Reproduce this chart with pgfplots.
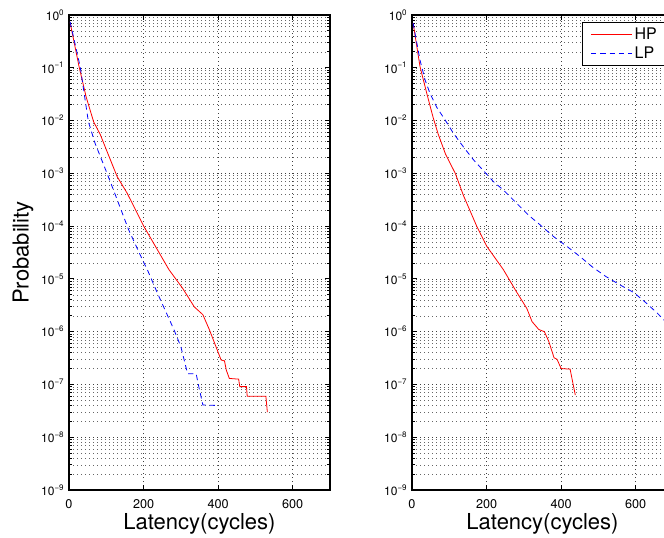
\documentclass[border=0pt]{standalone}
\usepackage{fontspec}
\setmainfont{TeX Gyre Heros}
\usepackage{pgfplots}
\pgfplotsset{compat=1.18}

\pgfplotsset{
  every axis/.append style={
    scale only axis, width=195.75pt, height=356.25pt,
    anchor=south west,
    xmin=0, xmax=700, ymin=1e-9, ymax=1,
    xtick={0,200,400,600}, xticklabels={0,200,400,600},
    ytick={1e-9,1e-8,1e-7,1e-6,1e-5,1e-4,1e-3,1e-2,1e-1,1},
    yticklabels={10\textsuperscript{−9},10\textsuperscript{−8},10\textsuperscript{−7},10\textsuperscript{−6},10\textsuperscript{−5},10\textsuperscript{−4},10\textsuperscript{−3},10\textsuperscript{−2},10\textsuperscript{−1},10\textsuperscript{0}},
    minor x tick num=0,
    grid=both,
    major grid style={black!75, line width=0.4pt, dash pattern=on 0.5pt off 2.5pt},
    minor grid style={black!60, line width=0.4pt, dash pattern=on 0.5pt off 2.5pt},
    tick align=inside,
    major tick length=4pt, minor tick length=2pt,
    axis line style={line width=0.9pt},
    tick style={black, line width=0.6pt},
    yticklabel style={font=\fontsize{9}{10}\selectfont},
    xticklabel style={font=\fontsize{9.5}{11}\selectfont, yshift=-3.5pt},
    label style={font=\fontsize{16.5}{18}\selectfont},
    xlabel={Latency(cycles)},
    xlabel style={at={(axis description cs:0.5,-0.0842)}, anchor=base},
  },
  every axis plot/.append style={
    legend image code/.code={\draw[##1] (0pt,0pt) -- (30.5pt,0pt);},
  },
}

\begin{document}
\begin{tikzpicture}
\path[use as bounding box] (0,0) rectangle (498pt,403.5pt);
\clip (0,0) rectangle (498pt,403.5pt);

\begin{semilogyaxis}[at={(51.75pt,36pt)},
  ylabel={Probability},
  ylabel style={at={(axis description cs:-0.176,0.5)}, anchor=center},
]
\addplot[draw=red, line width=0.6pt] coordinates {
(3,7.2e-1) (27,1.05e-1) (46,2.8e-2) (66,9.5e-3) (84,5.4e-3) (129,8.7e-4)
(156,4.2e-4) (201,9.8e-5) (268,1.5e-5) (305,6.6e-6) (336,2.95e-6) (359,2.1e-6)
(377,1.07e-6) (408,2.9e-7) (417,2.8e-7) (422,1.86e-7) (430,1.3e-7) (455,1.26e-7)
(458,9.1e-8) (476,9.1e-8) (478,6.0e-8) (528,6.0e-8) (532,3.0e-8)};
\addplot[draw=blue, line width=0.6pt, dash pattern=on 4pt off 3pt] coordinates {
(3,7.4e-1) (30,1.05e-1) (52,9.5e-3) (70,3.7e-3) (102,1.0e-3) (129,3.2e-4)
(160,8.5e-5) (201,2.0e-5) (210,1.5e-5) (237,5.4e-6) (282,1.07e-6) (300,5.2e-7)
(318,1.6e-7) (341,1.6e-7) (349,8.5e-8) (359,4.1e-8) (395,4.0e-8)};
\end{semilogyaxis}

\begin{semilogyaxis}[at={(309pt,36pt)},
  legend style={at={(axis description cs:0.981,0.986)}, anchor=north east,
    line width=0.8pt, font=\fontsize{12}{13}\selectfont,
    inner ysep=2pt, inner xsep=6pt, row sep=0pt},
  legend cell align=left,
]
\addplot[draw=red, line width=0.6pt] coordinates {
(3,7.0e-1) (21.5,1.05e-1) (39.5,3.3e-2) (57,1.12e-2) (70,5.6e-3) (90,2.3e-3) (116,1.0e-3)
(138,3.8e-4) (174,9.8e-5) (201,4.1e-5) (237,1.8e-5) (245,1.5e-5) (277,6.2e-6)
(308,2.75e-6) (322,1.55e-6) (340,1.1e-6) (355,1.0e-6) (367,6.5e-7) (381,3.2e-7)
(389,3.0e-7) (400,2.0e-7) (424,1.95e-7) (438,6.3e-8)};
\addlegendentry{HP}
\addplot[draw=blue, line width=0.6pt, dash pattern=on 4pt off 3pt] coordinates {
(3,7.0e-1) (21.5,1.4e-1) (35,5.9e-2) (48,3.3e-2) (66,1.8e-2) (89,1.02e-2)
(111,5.75e-3) (138,3.16e-3) (165,1.8e-3) (219,6.9e-4) (245.5,4.8e-4) (281,2.7e-4)
(313,1.6e-4) (344,1.05e-4) (380,6.3e-5) (416,4.1e-5) (452,2.6e-5) (483,1.7e-5)
(519,1.12e-5) (555,7.9e-6) (595,5.5e-6) (627,3.55e-6) (658,2.24e-6) (700,1.1e-6)};
\addlegendentry{LP}
\end{semilogyaxis}
\end{tikzpicture}
\end{document}
